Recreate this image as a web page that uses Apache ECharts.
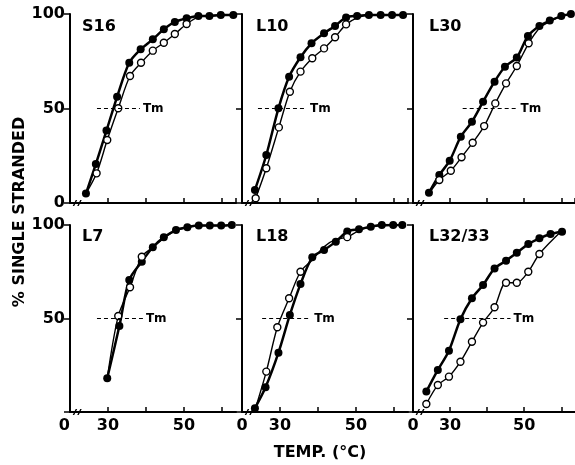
<!DOCTYPE html>
<html><head><meta charset="utf-8">
<script src="https://cdn.jsdelivr.net/npm/echarts@6/dist/echarts.min.js"></script>
<style>html,body{margin:0;padding:0;background:#fff}#c{width:575px;height:465px}</style>
</head><body><div id="c"></div>
<script>
// ---- data ----
const panelNames = ['S16', 'L10', 'L30', 'L7', 'L18', 'L32/33'];
const xTickLabels = {20: '0', 30: '30', 50: '50'};
const yTickLabels = {0: '0', 50: '50', 100: '100'};
const yAxisTitle = '% SINGLE STRANDED';
const xAxisTitle = 'TEMP. (°C)';
const tmLabel = 'Tm';

// [temperature °C, % single stranded]
const s16Filled = [[24.2,5],[26.8,20.6],[29.6,38.3],[32.4,56.2],[35.6,74.2],[38.6,81.3],[41.8,86.6],[44.7,91.9],[47.6,95.8],[50.7,97.7],[53.8,99],[56.7,99],[59.7,99.5],[63,99.5]];
const s16Open   = [[24.2,5],[27,15.7],[29.8,33.3],[32.7,50.1],[35.8,67.2],[38.7,74.2],[41.8,80.6],[44.7,84.8],[47.6,89.4],[50.7,94.7],[53.8,98.5],[56.7,99],[59.7,99.5],[63,99.5]];

const l10Filled = [[23.4,6.9],[26.4,25.4],[29.6,50.1],[32.4,66.8],[35.4,77.1],[38.3,84.5],[41.6,89.8],[44.5,93.7],[47.4,98.2],[50.3,99],[53.4,99.5],[56.5,99.5],[59.5,99.5],[62.4,99.5]];
const l10Open   = [[23.6,2.5],[26.4,18.4],[29.7,40],[32.6,58.9],[35.4,69.5],[38.5,76.6],[41.6,81.8],[44.5,87.7],[47.4,94.5],[50.3,98],[53.4,99.5],[56.5,99.5]];

const l30Filled = [[24.3,5.4],[27.1,14.8],[29.9,22.4],[32.9,35.1],[35.9,43],[38.9,53.6],[42,64.2],[44.8,72.1],[48,77],[51,88.4],[54.1,93.7],[56.9,96.5],[60,98.9],[62.6,100]];
const l30Open   = [[24.3,5],[27.1,12.2],[30.2,17.1],[33.1,24.2],[36.1,31.9],[39.2,40.7],[42.2,52.7],[45.1,63.3],[48,72.5],[51.2,84.5],[54.1,92.5],[56.9,96],[60,98.7]];

const l7Filled  = [[29.8,18],[33,46],[35.6,70.6],[38.9,80.4],[41.8,88.1],[44.7,93.4],[47.9,97.3],[50.9,98.8],[53.9,99.7],[56.8,99.7],[59.8,99.7],[62.6,100]];
const l7Open    = [[29.8,18],[32.7,51.3],[35.8,66.7],[38.9,83],[41.8,88],[44.7,93],[47.9,97],[50.9,98.8],[53.9,99.7],[56.8,99.7],[59.8,99.7],[62.6,100]];

const l18Filled = [[23.4,2],[26.2,13.2],[29.6,31.7],[32.6,51.9],[35.4,68.4],[38.5,82.7],[41.6,86.6],[44.7,91.1],[47.7,96.5],[50.8,97.7],[53.9,99.1],[56.8,100],[59.8,100],[62.2,100]];
const l18Open   = [[23.4,1],[26.4,21.6],[29.3,45.3],[32.4,60.8],[35.4,75],[38.5,81.3],[41.6,88.4],[44.7,92.3],[47.7,93.5],[50.8,97],[53.9,99],[56.8,99.6],[59.8,99.8],[62.2,99.8]];

const l3233Filled = [[23.6,10.9],[26.7,22.5],[29.7,32.8],[32.8,49.6],[35.9,60.8],[38.9,67.9],[42,76.8],[45.1,80.9],[48,85.2],[51.1,89.8],[54.1,92.9],[57.1,95.2],[60.2,96.4]];
const l3233Open   = [[23.6,4.3],[26.7,14.4],[29.7,18.9],[32.8,26.9],[35.9,37.6],[38.9,47.8],[42,56],[45.1,69.1],[48,69.1],[51.1,75],[54.1,84.5],[60.2,97]];

// Tm dashed line extents (temperature from, to) at 50 %
const tmRanges = [[27.1,38.4],[24.2,37.1],[33.4,48.2],[27.1,39.2],[25.3,38.2],[28.4,46.3]];
const tmLevel = 50;
const breakTemp = 21.9;

const filledData = [s16Filled, l10Filled, l30Filled, l7Filled, l18Filled, l3233Filled];
const openData = [s16Open, l10Open, l30Open, l7Open, l18Open, l3233Open];

// ---- layout ----
const FONT = 'DejaVu Sans';
const gridLefts = [70, 242, 413];
const gridTops = [14, 225];
const gridHeights = [189, 187];
const gridWidth = 166;
const titleLefts = [82, 256, 429];
const titleTops = [19, 229];

function openItems(open, filled) {
  return open.map(p => {
    const hidden = filled.some(q => Math.abs(q[0] - p[0]) < 0.6 && Math.abs(q[1] - p[1]) < 2.5);
    return hidden ? {value: p, symbol: 'none'} : {value: p};
  });
}

const grids = [], xAxes = [], yAxes = [], series = [], titles = [];
for (let i = 0; i < 6; i++) {
  const row = Math.floor(i / 3), col = i % 3;
  grids.push({left: gridLefts[col], top: gridTops[row], width: gridWidth, height: gridHeights[row]});
  xAxes.push({
    type: 'value', gridIndex: i, min: 20, max: 63.7, interval: 10,
    axisLine: {show: true, onZero: false, lineStyle: {color: '#000', width: 2}},
    axisTick: {show: true, inside: true, length: 5, lineStyle: {color: '#000', width: 1.5}},
    splitLine: {show: false},
    axisLabel: {
      show: row === 1, margin: 6, color: '#000', fontFamily: FONT, fontSize: 16, fontWeight: 'bold',
      showMinLabel: true, showMaxLabel: false,
      alignMinLabel: col === 0 ? 'right' : 'center',
      formatter: v => (xTickLabels[v] !== undefined ? xTickLabels[v] : '')
    }
  });
  yAxes.push({
    type: 'value', gridIndex: i, min: 0, max: 100, interval: 50,
    axisLine: {show: true, lineStyle: {color: '#000', width: 2}},
    axisTick: {show: true, inside: false, length: 6, lineStyle: {color: '#000', width: 1.5}},
    splitLine: {show: false},
    axisLabel: {
      show: col === 0, margin: 5, color: '#000', fontFamily: FONT, fontSize: 16, fontWeight: 'bold',
      formatter: v => (row === 1 && v === 0) ? '' : yTickLabels[v]
    }
  });
  titles.push({
    text: panelNames[i], left: titleLefts[col], top: titleTops[row], padding: 0,
    textStyle: {color: '#000', fontFamily: FONT, fontSize: 16, fontWeight: 'bold'}
  });
  series.push({
    type: 'line', xAxisIndex: i, yAxisIndex: i, data: filledData[i],
    smooth: 0.3,
    symbol: 'circle', symbolSize: 8,
    itemStyle: {color: '#000'},
    lineStyle: {color: '#000', width: 2.5},
    z: 3,
    markLine: {
      silent: true, symbol: 'none', animation: false,
      lineStyle: {color: '#000', width: 1, type: [4, 3]},
      label: {show: true, position: 'end', formatter: tmLabel, color: '#000', fontFamily: FONT, fontSize: 12, fontWeight: 'bold', distance: 3},
      data: [[{coord: [tmRanges[i][0], tmLevel]}, {coord: [tmRanges[i][1], tmLevel]}]]
    },
    markPoint: {
      silent: true, animation: false,
      symbol: 'path://M0,10 L3,0 L4.5,0 L1.5,10 Z M4.5,10 L7.5,0 L9,0 L6,10 Z',
      symbolSize: [9, 6], symbolKeepAspect: false,
      itemStyle: {color: '#000'},
      label: {show: false},
      data: [{coord: [breakTemp, 0]}]
    }
  });
  series.push({
    type: 'line', xAxisIndex: i, yAxisIndex: i, data: openItems(openData[i], filledData[i]),
    smooth: 0.3,
    symbol: 'circle', symbolSize: 7,
    itemStyle: {color: '#fff', borderColor: '#000', borderWidth: 1.4},
    lineStyle: {color: '#000', width: 1.4},
    z: 4
  });
}

const chart = echarts.init(document.getElementById('c'), null, {renderer: 'canvas'});
chart.setOption({
  animation: false,
  backgroundColor: '#fff',
  title: titles,
  grid: grids,
  xAxis: xAxes,
  yAxis: yAxes,
  series: series,
  graphic: [
    {type: 'text', x: 20, y: 212, rotation: Math.PI / 2,
      style: {text: yAxisTitle, fill: '#000', font: 'bold 16px "DejaVu Sans"', textAlign: 'center', textVerticalAlign: 'middle'}},
    {type: 'text', x: 320, y: 453,
      style: {text: xAxisTitle, fill: '#000', font: 'bold 16px "DejaVu Sans"', textAlign: 'center', textVerticalAlign: 'middle'}}
  ]
});
</script></body></html>
